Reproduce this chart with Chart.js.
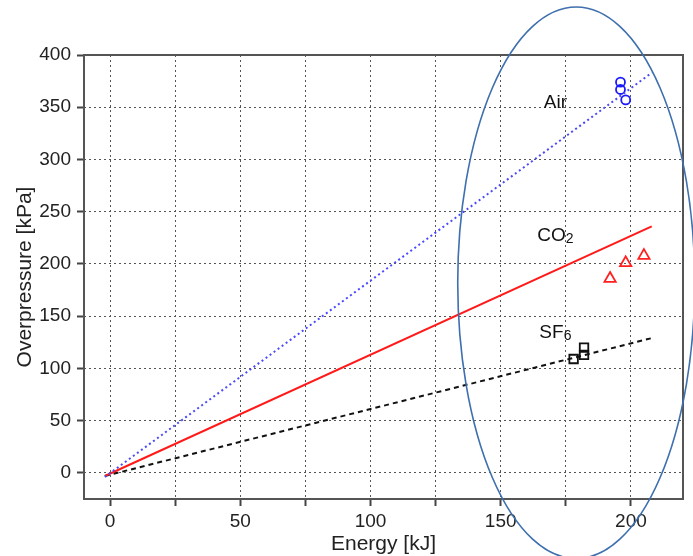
<!DOCTYPE html>
<html>
<head>
<meta charset="utf-8">
<script src="https://cdn.jsdelivr.net/npm/chart.js@4/dist/chart.umd.min.js"></script>
<style>
  html, body { margin: 0; padding: 0; background: #fff; }
  #wrap { width: 693px; height: 556px; }
</style>
</head>
<body>
<div id="wrap"><canvas id="chart" width="693" height="556"></canvas></div>
<script>
// measured points (energy kJ, overpressure kPa)
var airX = [196, 196, 198];
var airY = [374, 367, 357];
var co2X = [192, 198, 205];
var co2Y = [186, 201, 208];
var sf6X = [178, 182, 182];
var sf6Y = [109, 120, 113];

// fitted lines (two end points each)
var fitX = [-2, 208];
var airFitY = [-4, 383];
var co2FitY = [-3, 236];
var sf6FitY = [-3, 129];

var xTicks = [0, 25, 50, 75, 100, 125, 150, 175, 200];
var yTicks = [0, 50, 100, 150, 200, 250, 300, 350, 400];

// gas names written next to the data
var gasLabels = [
    {text: 'Air', sub: '', x: 171, y: 354},
    {text: 'CO', sub: '2', x: 171, y: 227},
    {text: 'SF', sub: '6', x: 171, y: 134}
];
// highlight ellipse round the measurements (data units)
var ellipse = {cx: 179, cy: 182, rx: 45.5, ry: 264};

function pts(xs, ys) {
    return xs.map(function (x, i) { return {x: x, y: ys[i]}; });
}

var FONT = "'Liberation Sans', Arial, sans-serif";

var extras = {
    id: 'extras',
    beforeDatasetsDraw: function (chart) {
        var a = chart.chartArea, ctx = chart.ctx;
        ctx.save();
        ctx.strokeStyle = '#555';
        ctx.lineWidth = 2;
        ctx.strokeRect(a.left, a.top, a.right - a.left, a.bottom - a.top);
        ctx.restore();
    },
    afterDatasetsDraw: function (chart) {
        var ctx = chart.ctx, xs = chart.scales.x, ys = chart.scales.y;
        ctx.save();
        ctx.fillStyle = '#111';
        ctx.textBaseline = 'middle';
        gasLabels.forEach(function (l) {
            var px = xs.getPixelForValue(l.x), py = ys.getPixelForValue(l.y);
            ctx.font = '19px ' + FONT;
            var w = ctx.measureText(l.text).width;
            ctx.font = '14px ' + FONT;
            var ws = l.sub ? ctx.measureText(l.sub).width : 0;
            var start = px - (w + ws) / 2;
            ctx.textAlign = 'left';
            ctx.font = '19px ' + FONT;
            ctx.fillText(l.text, start, py);
            if (l.sub) {
                ctx.font = '14px ' + FONT;
                ctx.fillText(l.sub, start + w, py + 3);
            }
        });
        // ellipse
        var cx = xs.getPixelForValue(ellipse.cx), cy = ys.getPixelForValue(ellipse.cy);
        var rx = Math.abs(xs.getPixelForValue(ellipse.cx + ellipse.rx) - cx);
        var ry = Math.abs(ys.getPixelForValue(ellipse.cy + ellipse.ry) - cy);
        ctx.beginPath();
        ctx.ellipse(cx, cy, rx, ry, 0, 0, Math.PI * 2);
        ctx.strokeStyle = '#3e6fae';
        ctx.lineWidth = 1.6;
        ctx.stroke();
        ctx.restore();
    }
};

var lineDs = function (ys, color, dash) {
    return {
        type: 'line', data: pts(fitX, ys), borderColor: color, borderWidth: 2,
        borderDash: dash, pointRadius: 0, fill: false, tension: 0
    };
};
var markDs = function (xs, ys, color, style, r) {
    return {
        type: 'scatter', data: pts(xs, ys), borderColor: color, backgroundColor: 'rgba(0,0,0,0)',
        pointStyle: style, pointRadius: r, pointBorderWidth: 1.8, showLine: false
    };
};

new Chart(document.getElementById('chart').getContext('2d'), {
    type: 'scatter',
    data: {
        datasets: [
            lineDs(airFitY, '#4a4aff', [2, 3]),
            lineDs(co2FitY, '#ff1a1a', []),
            lineDs(sf6FitY, '#111', [5, 4]),
            markDs(airX, airY, '#1a1aff', 'circle', 4.5),
            markDs(co2X, co2Y, '#ff2020', 'triangle', 6.5),
            markDs(sf6X, sf6Y, '#111', 'rect', 6)
        ]
    },
    options: {
        responsive: false,
        animation: false,
        events: [],
        layout: {padding: {top: 55, right: 10, left: 0, bottom: 0}},
        plugins: {legend: {display: false}, tooltip: {enabled: false}},
        scales: {
            x: {
                type: 'linear', min: -10, max: 220,
                afterBuildTicks: function (s) { s.ticks = xTicks.map(function (v) { return {value: v}; }); },
                afterFit: function (s) { s.height = 57; },
                ticks: {
                    autoSkip: false, maxRotation: 0, color: '#222', padding: 4,
                    font: {family: FONT, size: 19},
                    callback: function (v) { return v % 50 === 0 ? String(v) : ''; }
                },
                grid: {color: '#555', lineWidth: 1, tickLength: 7, tickColor: '#444', tickWidth: 2},
                border: {display: false, dash: [2, 3]},
                title: {
                    display: true, text: 'Energy [kJ]', color: '#222',
                    font: {family: FONT, size: 21, lineHeight: 1}, padding: {top: 0, bottom: 1}
                }
            },
            y: {
                type: 'linear', min: -25, max: 400,
                afterBuildTicks: function (s) { s.ticks = yTicks.map(function (v) { return {value: v}; }); },
                afterFit: function (s) { s.width = 84; },
                ticks: {
                    autoSkip: false, color: '#222', padding: 6,
                    font: {family: FONT, size: 19}
                },
                grid: {color: '#555', lineWidth: 1, tickLength: 7, tickColor: '#444', tickWidth: 2},
                border: {display: false, dash: [2, 3]},
                title: {
                    display: true, text: 'Overpressure [kPa]', color: '#222',
                    font: {family: FONT, size: 21, lineHeight: 1}, padding: {top: 15, bottom: 0}
                }
            }
        }
    },
    plugins: [extras]
});
</script>
</body>
</html>
